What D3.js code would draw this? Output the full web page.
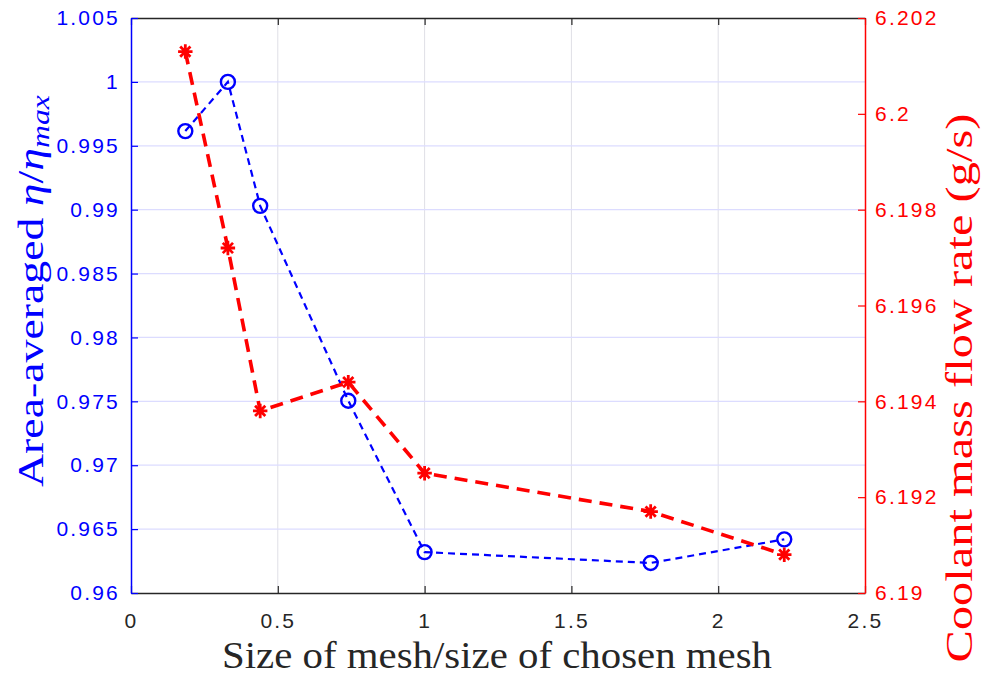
<!DOCTYPE html>
<html>
<head>
<meta charset="utf-8">
<script src="https://cdn.jsdelivr.net/npm/d3@7/dist/d3.min.js"></script>
<style>
  html, body { margin: 0; padding: 0; background: #fff; }
  svg { display: block; }
</style>
</head>
<body>
<div id="chart"></div>
<script>
// mesh size ratio (x) for both series
var meshRatio = [0.185, 0.33, 0.44, 0.74, 1.0, 1.77, 2.225];
// left axis: area-averaged eta / eta_max
var etaRatio = [0.99615, 1.0, 0.9903, 0.97505, 0.9632, 0.96235, 0.9642];
// right axis: coolant mass flow rate (g/s)
var massFlow = [6.2013, 6.1972, 6.1938, 6.1944, 6.1925, 6.1917, 6.1908];

var xTicks = [0, 0.5, 1, 1.5, 2, 2.5];
var xTickLabels = ["0", "0.5", "1", "1.5", "2", "2.5"];
var leftTicks = [0.96, 0.965, 0.97, 0.975, 0.98, 0.985, 0.99, 0.995, 1, 1.005];
var leftTickLabels = ["0.96", "0.965", "0.97", "0.975", "0.98", "0.985", "0.99", "0.995", "1", "1.005"];
var rightTicks = [6.19, 6.192, 6.194, 6.196, 6.198, 6.2, 6.202];
var rightTickLabels = ["6.19", "6.192", "6.194", "6.196", "6.198", "6.2", "6.202"];

(function () {
    "use strict";

    var width = 985, height = 677;
    var margin = { top: 18, left: 131, bottom: 84, right: 120 };
    var chartWidth = width - margin.left - margin.right;
    var chartHeight = height - margin.top - margin.bottom;

    var BLUE = "#0000ff", RED = "#ff0000", DARK = "#262626";
    var tickFont = "'Liberation Sans', Arial, sans-serif";
    var labelFont = "'Liberation Serif', 'Times New Roman', serif";

    var svg = d3.select("#chart").append("svg")
        .attr("width", width)
        .attr("height", height);

    var g = svg.append("g")
        .attr("transform", "translate(" + margin.left + "," + margin.top + ")");

    var x = d3.scaleLinear().domain([0, 2.5]).range([0, chartWidth]);
    var yL = d3.scaleLinear().domain([0.96, 1.005]).range([chartHeight, 0]);
    var yR = d3.scaleLinear().domain([6.19, 6.202]).range([chartHeight, 0]);

    // grid
    g.append("g").selectAll("line")
        .data(xTicks.slice(1, -1))
        .enter().append("line")
        .attr("x1", d => x(d)).attr("x2", d => x(d))
        .attr("y1", 0).attr("y2", chartHeight)
        .attr("stroke", "#dfdfe6").attr("stroke-width", 1);

    g.append("g").selectAll("line")
        .data(leftTicks.slice(1, -1))
        .enter().append("line")
        .attr("x1", 0).attr("x2", chartWidth)
        .attr("y1", d => yL(d)).attr("y2", d => yL(d))
        .attr("stroke", "#dcdcff").attr("stroke-width", 1.2);

    // axes (ticks inward, MATLAB style)
    var axB = g.append("g")
        .attr("transform", "translate(0," + chartHeight + ")")
        .call(d3.axisBottom(x).tickValues(xTicks)
            .tickFormat((d, i) => xTickLabels[i])
            .tickSizeInner(-7).tickSizeOuter(0).tickPadding(20));
    axB.select(".domain").attr("stroke", DARK).attr("stroke-width", 1.5);
    axB.selectAll(".tick line").attr("stroke", DARK).attr("stroke-width", 1.2);
    axB.selectAll("text").attr("fill", DARK);

    var axT = g.append("g")
        .call(d3.axisTop(x).tickValues(xTicks)
            .tickFormat("").tickSizeInner(-7).tickSizeOuter(0));
    axT.select(".domain").attr("stroke", DARK).attr("stroke-width", 1.5);
    axT.selectAll(".tick line").attr("stroke", DARK).attr("stroke-width", 1.2);

    var axL = g.append("g")
        .call(d3.axisLeft(yL).tickValues(leftTicks)
            .tickFormat((d, i) => leftTickLabels[i])
            .tickSizeInner(-7).tickSizeOuter(0).tickPadding(11));
    axL.select(".domain").attr("stroke", BLUE).attr("stroke-width", 1.5);
    axL.selectAll(".tick line").attr("stroke", BLUE).attr("stroke-width", 1.2);
    axL.selectAll("text").attr("fill", BLUE);

    var axR = g.append("g")
        .attr("transform", "translate(" + chartWidth + ",0)")
        .call(d3.axisRight(yR).tickValues(rightTicks)
            .tickFormat((d, i) => rightTickLabels[i])
            .tickSizeInner(-7).tickSizeOuter(0).tickPadding(10));
    axR.select(".domain").attr("stroke", RED).attr("stroke-width", 1.5);
    axR.selectAll(".tick line").attr("stroke", RED).attr("stroke-width", 1.2);
    axR.selectAll("text").attr("fill", RED);

    g.selectAll(".tick text")
        .attr("font-family", tickFont)
        .attr("font-size", 21)
        .attr("letter-spacing", "2.2px");

    // blue series
    var blueLine = d3.line()
        .x((d, i) => x(meshRatio[i]))
        .y(d => yL(d));

    g.append("path")
        .datum(etaRatio)
        .attr("d", blueLine)
        .attr("fill", "none")
        .attr("stroke", BLUE)
        .attr("stroke-width", 2.2)
        .attr("stroke-dasharray", "7,5");

    g.append("g").selectAll("circle")
        .data(etaRatio)
        .enter().append("circle")
        .attr("cx", (d, i) => x(meshRatio[i]))
        .attr("cy", d => yL(d))
        .attr("r", 7)
        .attr("fill", "none")
        .attr("stroke", BLUE)
        .attr("stroke-width", 2.4);

    // red series
    var redLine = d3.line()
        .x((d, i) => x(meshRatio[i]))
        .y(d => yR(d));

    g.append("path")
        .datum(massFlow)
        .attr("d", redLine)
        .attr("fill", "none")
        .attr("stroke", RED)
        .attr("stroke-width", 3.6)
        .attr("stroke-dasharray", "13,8");

    var starG = g.append("g").selectAll("g")
        .data(massFlow)
        .enter().append("g")
        .attr("transform", (d, i) => "translate(" + x(meshRatio[i]) + "," + yR(d) + ")");
    starG.append("path")
        .attr("d", d3.symbol(d3.symbolPlus, 70)())
        .attr("stroke", RED).attr("stroke-width", 2.8).attr("fill", "none");
    starG.append("path")
        .attr("d", d3.symbol(d3.symbolTimes, 70)())
        .attr("stroke", RED).attr("stroke-width", 2.8).attr("fill", "none");
    starG.append("circle")
        .attr("r", 3.5).attr("fill", RED);

    // axis labels, stretched to the reference extent
    function fit(sel, target, cx, cy, rot) {
        var len = sel.node().getComputedTextLength();
        var k = target / len;
        sel.attr("transform", "translate(" + cx + "," + cy + ")" +
            (rot ? " rotate(" + rot + ")" : "") + " scale(" + k + ",1)");
    }

    var xl = svg.append("text")
        .attr("text-anchor", "middle")
        .attr("font-family", labelFont)
        .attr("font-size", 38)
        .attr("fill", DARK)
        .text("Size of mesh/size of chosen mesh");
    fit(xl, 550, 497, 668, 0);

    var yl = svg.append("text")
        .attr("text-anchor", "middle")
        .attr("font-family", labelFont)
        .attr("font-size", 36)
        .attr("fill", BLUE);
    yl.append("tspan").text("Area-averaged ");
    yl.append("tspan").attr("font-style", "italic").text("\u03b7");
    yl.append("tspan").text("/");
    yl.append("tspan").attr("font-style", "italic").text("\u03b7");
    yl.append("tspan").attr("font-style", "italic").attr("font-size", 25)
        .attr("baseline-shift", "-25%").text("max");
    fit(yl, 392, 43, 291, -90);

    var rl = svg.append("text")
        .attr("text-anchor", "middle")
        .attr("font-family", labelFont)
        .attr("font-size", 37)
        .attr("fill", RED)
        .text("Coolant mass flow rate (g/s)");
    fit(rl, 549, 972, 388, -90);
})();
</script>
</body>
</html>
